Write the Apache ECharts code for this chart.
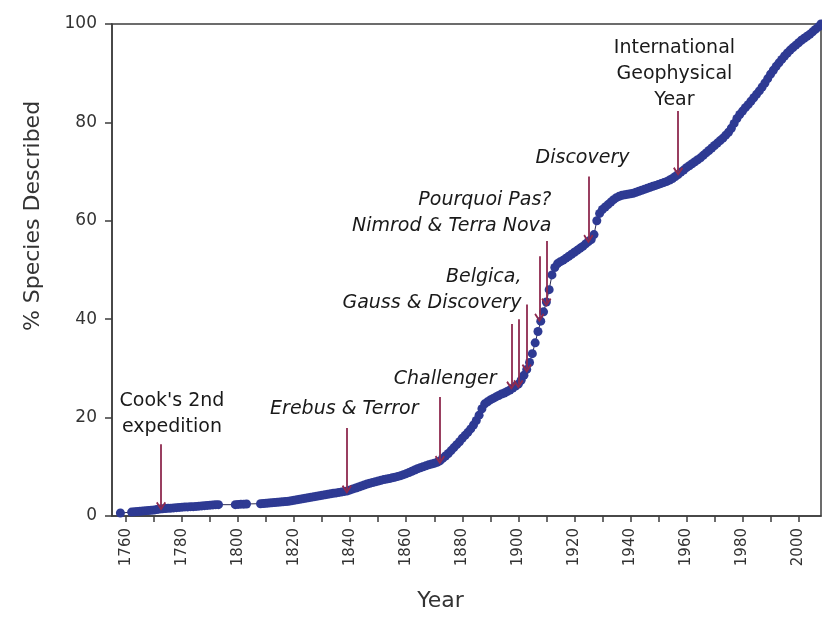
<!DOCTYPE html>
<html>
<head>
<meta charset="utf-8">
<script src="https://cdn.jsdelivr.net/npm/echarts@6/dist/echarts.min.js"></script>
<style>
  html, body { margin: 0; padding: 0; background: #fff; }
  #main { width: 822px; height: 617px; }
</style>
</head>
<body>
<div id="main"></div>
<script>
var chart = echarts.init(document.getElementById('main'));

// cumulative % of species described (year by year)
var years = [1758,
    1762, 1763, 1764, 1765, 1766, 1767, 1768, 1769, 1770, 1771, 1772, 1773, 1774, 1775, 1776, 1777, 1778, 1779,
    1780, 1781, 1782, 1783, 1784, 1785, 1786, 1787, 1788, 1789, 1790, 1791, 1792, 1793,
    1799, 1800, 1801, 1802, 1803,
    1808, 1809, 1810, 1811, 1812, 1813, 1814, 1815, 1816, 1817, 1818, 1819,
    1820, 1821, 1822, 1823, 1824, 1825, 1826, 1827, 1828, 1829, 1830, 1831, 1832, 1833, 1834, 1835, 1836, 1837, 1838, 1839,
    1840, 1841, 1842, 1843, 1844, 1845, 1846, 1847, 1848, 1849, 1850, 1851, 1852, 1853, 1854, 1855, 1856, 1857, 1858, 1859,
    1860, 1861, 1862, 1863, 1864, 1865, 1866, 1867, 1868, 1869, 1870, 1871, 1872, 1873, 1874, 1875, 1876, 1877, 1878, 1879,
    1880, 1881, 1882, 1883, 1884, 1885, 1886, 1887, 1888, 1889, 1890, 1891, 1892, 1893, 1894, 1895, 1896, 1897, 1898, 1899,
    1900, 1901, 1902, 1903, 1904, 1905, 1906, 1907, 1908, 1909, 1910, 1911, 1912, 1913, 1914, 1915, 1916, 1917, 1918, 1919,
    1920, 1921, 1922, 1923, 1924, 1925, 1926, 1927, 1928, 1929, 1930, 1931, 1932, 1933, 1934, 1935, 1936, 1937, 1938, 1939,
    1940, 1941, 1942, 1943, 1944, 1945, 1946, 1947, 1948, 1949, 1950, 1951, 1952, 1953, 1954, 1955, 1956, 1957, 1958, 1959,
    1960, 1961, 1962, 1963, 1964, 1965, 1966, 1967, 1968, 1969, 1970, 1971, 1972, 1973, 1974, 1975, 1976, 1977, 1978, 1979,
    1980, 1981, 1982, 1983, 1984, 1985, 1986, 1987, 1988, 1989, 1990, 1991, 1992, 1993, 1994, 1995, 1996, 1997, 1998, 1999,
    2000, 2001, 2002, 2003, 2004, 2005, 2006, 2007, 2008];
var pct = [0.6,
    0.8, 0.85, 0.9, 0.95, 1.0, 1.05, 1.1, 1.15, 1.2, 1.3, 1.4, 1.45, 1.5, 1.55, 1.6, 1.65, 1.7, 1.75,
    1.8, 1.85, 1.85, 1.9, 1.9, 1.95, 2.0, 2.05, 2.1, 2.15, 2.2, 2.25, 2.3, 2.3,
    2.3, 2.35, 2.4, 2.4, 2.45,
    2.5, 2.55, 2.6, 2.65, 2.7, 2.75, 2.8, 2.85, 2.9, 2.95, 3.0, 3.1,
    3.2, 3.3, 3.4, 3.5, 3.6, 3.7, 3.8, 3.9, 4.0, 4.1, 4.2, 4.3, 4.4, 4.5, 4.6, 4.7, 4.8, 4.9, 5.0, 5.1,
    5.3, 5.5, 5.7, 5.9, 6.1, 6.3, 6.5, 6.65, 6.8, 6.95, 7.1, 7.25, 7.4, 7.5, 7.6, 7.75, 7.9, 8.05, 8.2, 8.4,
    8.6, 8.85, 9.1, 9.35, 9.6, 9.8, 10.0, 10.2, 10.4, 10.55, 10.7, 10.9, 11.2, 11.7, 12.2, 12.7, 13.3, 13.9, 14.5, 15.1,
    15.8, 16.4, 17.0, 17.7, 18.5, 19.4, 20.5, 21.8, 22.8, 23.2, 23.6, 23.9, 24.2, 24.5, 24.8, 25.0, 25.3, 25.6, 26.0, 26.4,
    26.8, 27.6, 28.6, 29.8, 31.2, 33.0, 35.2, 37.5, 39.6, 41.5, 43.5, 46.0, 49.0, 50.5, 51.3, 51.7, 52.0, 52.4, 52.8, 53.2,
    53.6, 54.0, 54.4, 54.8, 55.3, 55.8, 56.2, 57.2, 60.0, 61.5, 62.3, 62.8, 63.3, 63.8, 64.3, 64.7, 65.0, 65.2, 65.3, 65.4,
    65.5, 65.6, 65.8, 66.0, 66.2, 66.4, 66.6, 66.8, 67.0, 67.2, 67.4, 67.6, 67.8, 68.0, 68.3, 68.6, 69.0, 69.4, 69.9, 70.3,
    70.8, 71.2, 71.6, 72.0, 72.4, 72.8, 73.3, 73.8, 74.3, 74.8, 75.3, 75.8, 76.3, 76.8, 77.4, 78.0, 78.8, 79.8, 80.8, 81.6,
    82.3, 83.0, 83.6, 84.3, 85.0, 85.7, 86.4, 87.2, 88.0, 88.9, 89.8, 90.6, 91.4, 92.1, 92.8, 93.5, 94.1, 94.7, 95.2, 95.7,
    96.2, 96.7, 97.1, 97.5, 97.9, 98.4, 98.9, 99.4, 100];

var tick_years = [1760, 1770, 1780, 1790, 1800, 1810, 1820, 1830, 1840, 1850, 1860, 1870, 1880, 1890, 1900,
    1910, 1920, 1930, 1940, 1950, 1960, 1970, 1980, 1990, 2000];
var label_years = [1760, 1780, 1800, 1820, 1840, 1860, 1880, 1900, 1920, 1940, 1960, 1980, 2000];

// expedition arrows: year, start (%), tip (%)
var arrow_years = [1772.5, 1838.8, 1872, 1897.5, 1900, 1903, 1907.5, 1910, 1925, 1957];
var arrow_top = [14.6, 17.9, 24.2, 39.0, 40.0, 43.0, 52.8, 55.9, 69.0, 82.3];
var arrow_tip = [2.0, 5.4, 11.4, 26.5, 26.8, 30.0, 40.3, 43.4, 56.3, 70.0];

// expedition labels
var note_text = ["Cook's 2nd\nexpedition", 'Erebus & Terror', 'Challenger', 'Belgica,\nGauss & Discovery',
    'Pourquoi Pas?\nNimrod & Terra Nova', 'Discovery', 'International\nGeophysical\nYear'];
var note_x = [1776.4, 1837.9, 1873.9, 1901.1, 1911.8, 1922.9, 1955.7];
var note_y = [20.7, 21.7, 27.9, 46.0, 61.6, 72.8, 89.9];
var note_italic = [false, true, true, true, true, true, false];
var note_align = ['center', 'center', 'center', 'right', 'right', 'center', 'center'];

var points = years.map(function (y, i) { return [y, pct[i]]; });

var arrows = arrow_years.map(function (y, i) {
    return [{ coord: [y, arrow_top[i]] }, { coord: [y, arrow_tip[i]] }];
});

var notes = note_text.map(function (t, i) {
    return {
        name: t,
        value: [note_x[i], note_y[i]],
        label: {
            fontStyle: note_italic[i] ? 'italic' : 'normal',
            align: note_align[i]
        }
    };
});

var font = 'DejaVu Sans';
var axis_color = '#3d3d3d';

var option = {
    backgroundColor: '#fff',
    animation: false,
    grid: {
        left: 112,
        top: 24,
        right: 1,
        bottom: 96,
        show: true,
        borderColor: axis_color,
        borderWidth: 1.5,
        backgroundColor: 'transparent'
    },
    xAxis: {
        type: 'value',
        min: 1755,
        max: 2008,
        name: 'Year',
        nameLocation: 'middle',
        nameGap: 74,
        nameTextStyle: { fontFamily: font, fontSize: 22, color: '#333', padding: [0, 52, 0, 0] },
        splitLine: { show: false },
        axisLine: { lineStyle: { color: axis_color, width: 1.5 } },
        axisTick: { customValues: tick_years, length: 6, lineStyle: { color: axis_color, width: 1.5 } },
        axisLabel: {
            customValues: label_years,
            formatter: function (v) { return String(v); },
            rotate: 90,
            margin: 12,
            fontFamily: font,
            fontSize: 15,
            color: '#333'
        }
    },
    yAxis: {
        type: 'value',
        min: 0,
        max: 100,
        interval: 20,
        name: '% Species Described',
        nameLocation: 'middle',
        nameRotate: 90,
        nameGap: 68,
        nameTextStyle: { fontFamily: font, fontSize: 22, color: '#333', padding: [0, 0, 0, 108] },
        splitLine: { show: false },
        axisLine: { show: true, lineStyle: { color: axis_color, width: 1.5 } },
        axisTick: { show: true, length: 7, lineStyle: { color: axis_color, width: 1.5 } },
        axisLabel: { margin: 15, fontFamily: font, fontSize: 17, color: '#333' }
    },
    series: [
        {
            name: 'species',
            type: 'line',
            data: points,
            symbol: 'circle',
            symbolSize: 9,
            showAllSymbol: true,
            itemStyle: { color: '#2e3a93' },
            lineStyle: { color: '#2a2a50', width: 1 },
            z: 3
        },
        {
            name: 'expeditions',
            type: 'scatter',
            data: notes,
            symbolSize: 0,
            silent: true,
            itemStyle: { opacity: 1 },
            label: {
                show: true,
                position: 'inside',
                formatter: '{b}',
                fontFamily: font,
                fontSize: 19,
                lineHeight: 26,
                color: '#1a1a1a',
                verticalAlign: 'middle'
            },
            markLine: {
                silent: true,
                symbol: ['none', 'path://M5,0 L10,7 L8.6,8.2 L5,3.2 L1.4,8.2 L0,7 Z'],
                symbolSize: [10, 9],
                label: { show: false },
                lineStyle: { color: '#8e2a4f', width: 1.8, type: 'solid', opacity: 1 },
                data: arrows
            },
            z: 4
        }
    ]
};

chart.setOption(option);
</script>
</body>
</html>
